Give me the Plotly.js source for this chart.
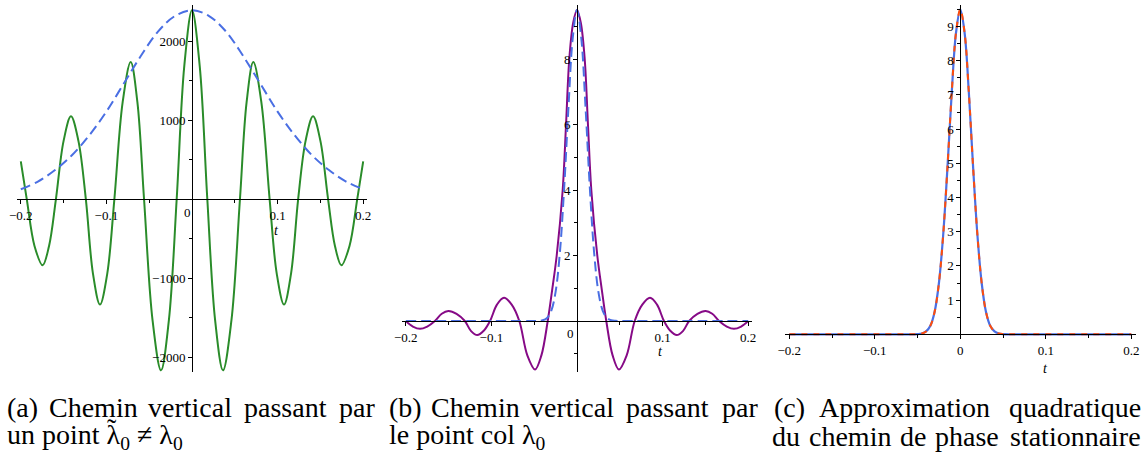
<!DOCTYPE html>
<html>
<head>
<meta charset="utf-8">
<script src="https://cdn.plot.ly/plotly-3.0.1.min.js"></script>
<style>html,body{margin:0;padding:0;background:#fff;}#chart{width:1143px;height:454px;}</style>
</head>
<body>
<div id="chart"></div>
<script>
// ---------- data ----------
// (a) vertical path through a point lambda~0 != lambda0
const tGreenA = [-0.2,-0.193,-0.184,-0.1745,-0.167,-0.159,-0.150,-0.1414,-0.1327,-0.124,-0.1157,-0.1075,-0.099,-0.0907,-0.081,-0.0716,-0.0638,-0.056,-0.0461,-0.0362,-0.027,-0.0179,-0.009,0,
                 0.009,0.0179,0.027,0.0362,0.0461,0.056,0.0638,0.0716,0.081,0.0907,0.099,0.1075,0.1157,0.124,0.1327,0.1414,0.150,0.159,0.167,0.1745,0.184,0.193,0.2];
const yGreenA = [480,0,-590,-835,-590,0,740,1050,740,0,-940,-1333,-940,0,1230,1738,1230,0,-1530,-2165,-1530,0,1690,2392,
                 1690,0,-1530,-2165,-1530,0,1230,1738,1230,0,-940,-1333,-940,0,740,1050,740,0,-590,-835,-590,0,480];
const tEnvA = [-0.2,-0.18,-0.16,-0.14,-0.12,-0.10,-0.08,-0.06,-0.04,-0.02,0,0.02,0.04,0.06,0.08,0.10,0.12,0.14,0.16,0.18,0.2];
const yEnvA = [127,225,370,560,810,1110,1460,1810,2120,2320,2392,2320,2120,1810,1460,1110,810,560,370,225,127];

// (b) vertical path through the saddle point lambda0
const tPurpleB = [-0.2,-0.1917,-0.1834,-0.175,-0.166,-0.158,-0.1503,-0.1407,-0.131,-0.124,-0.1165,-0.109,-0.1016,-0.0935,-0.0853,-0.0763,-0.0674,-0.058,-0.049,-0.0416,-0.0342,-0.029,-0.0237,-0.0167,-0.0128,-0.009,-0.0045,0,
                  0.0045,0.009,0.0128,0.0167,0.0237,0.029,0.0342,0.0416,0.049,0.058,0.0674,0.0763,0.0853,0.0935,0.1016,0.109,0.1165,0.124,0.131,0.1407,0.1503,0.158,0.166,0.175,0.1834,0.1917,0.2];
const yPurpleB = [0,-0.17,-0.24,-0.17,0,0.22,0.305,0.22,0,-0.30,-0.43,-0.30,0,0.50,0.71,0.50,0,-1.05,-1.48,-1.05,0,0.95,2.0,4.0,6.0,8.0,9.1,9.5,
                  9.1,8.0,6.0,4.0,2.0,0.95,0,-1.05,-1.48,-1.05,0,0.50,0.71,0.50,0,-0.30,-0.43,-0.30,0,0.22,0.305,0.22,0,-0.17,-0.24,-0.17,0];
const tGaussB = [-0.2,-0.05,-0.045,-0.04,-0.035,-0.03,-0.025,-0.02,-0.015,-0.01,-0.005,0,0.005,0.01,0.015,0.02,0.025,0.03,0.035,0.04,0.045,0.05,0.2];
const yGaussB = [0,0,0.004,0.022,0.093,0.32,0.89,2.09,4.06,6.51,8.64,9.5,8.64,6.51,4.06,2.09,0.89,0.32,0.093,0.022,0.004,0,0];

// (c) quadratic approximation of the stationary phase path
const tC = [-0.2,-0.1,-0.06,-0.05,-0.045,-0.04,-0.035,-0.03,-0.025,-0.02,-0.015,-0.01,-0.005,0,0.005,0.01,0.015,0.02,0.025,0.03,0.035,0.04,0.045,0.05,0.06,0.1,0.2];
const yExactC = [0,0,0,0.006,0.024,0.084,0.25,0.66,1.50,2.91,4.88,7.07,8.82,9.5,8.82,7.07,4.88,2.91,1.50,0.66,0.25,0.084,0.024,0.006,0,0,0];
const yQuadC  = [0,0,0,0.006,0.024,0.084,0.25,0.66,1.50,2.91,4.88,7.07,8.82,9.5,8.82,7.07,4.88,2.91,1.50,0.66,0.25,0.084,0.024,0.006,0,0,0];

const xTickVals = [-0.2,-0.1,0.1,0.2];
const yTickA = [-2000,-1000,1000,2000];
const yTickB = [2,4,6,8];
const yTickC = [1,2,3,4,5,6,7,8,9];

// ---------- layout helpers ----------
const W = 1143, H = 454;
const SERIF = '"Liberation Serif", "Times New Roman", Times, serif';
function panel(px0, sx, py0, sy, xr, yr, yticks, yminor, xTicks) {
  const tickFont = {family: SERIF, size: 13, color: '#000'};
  const xa = {
    domain: [(px0 + xr[0]*sx)/W, (px0 + xr[1]*sx)/W], range: xr,
    anchor: 'free', position: 1 - py0/H,
    showline: true, linecolor: '#000', linewidth: 1, showgrid: false, zeroline: false,
    tickmode: 'array', tickvals: xTicks, ticks: 'outside', ticklen: 4, tickcolor: '#000',
    tickfont: tickFont,
    minor: {dtick: 0.05, ticks: 'outside', ticklen: 3, tickcolor: '#000', showgrid: false}
  };
  const ya = {
    domain: [1 - (py0 - yr[0]*sy)/H, 1 - (py0 - yr[1]*sy)/H], range: yr,
    anchor: 'free', position: px0/W,
    showline: true, linecolor: '#000', linewidth: 1, showgrid: false, zeroline: false,
    tickmode: 'array', tickvals: yticks, ticks: 'outside', ticklen: 4, tickcolor: '#000',
    tickfont: tickFont,
    minor: {dtick: yminor, ticks: 'outside', ticklen: 3, tickcolor: '#000', showgrid: false}
  };
  return [xa, ya];
}
const [xa1, ya1] = panel(192, 856, 199.3, 0.079, [-0.205, 0.205], [-2190, 2460], yTickA, 500, xTickVals);
const [xa2, ya2] = panel(577, 856, 321, 32.75, [-0.205, 0.205], [-1.55, 9.66], yTickB, 1, xTickVals);
const [xa3, ya3] = panel(960.3, 855, 334.3, 34.2, [-0.205, 0.205], [-0.06, 9.63], yTickC, 0.5, [-0.2,-0.1,0,0.1,0.2]);

const green = '#2a8c2a', royal = '#4a6fe3', purple = '#860a86', orange = '#ff4d0a';
const traces = [
  {x: tGreenA, y: yGreenA, xaxis: 'x', yaxis: 'y', mode: 'lines', line: {color: green, width: 2, shape: 'spline', smoothing: 1}},
  {x: tEnvA, y: yEnvA, xaxis: 'x', yaxis: 'y', mode: 'lines', line: {color: royal, width: 2, dash: '10px,5px', shape: 'spline', smoothing: 1}},
  {x: tPurpleB, y: yPurpleB, xaxis: 'x2', yaxis: 'y2', mode: 'lines', line: {color: purple, width: 2, shape: 'spline', smoothing: 1}},
  {x: tGaussB, y: yGaussB, xaxis: 'x2', yaxis: 'y2', mode: 'lines', line: {color: royal, width: 2, dash: '10px,5px', shape: 'spline', smoothing: 1}},
  {x: tC, y: yExactC, xaxis: 'x3', yaxis: 'y3', mode: 'lines', line: {color: royal, width: 2.2, shape: 'spline', smoothing: 1}},
  {x: tC, y: yQuadC, xaxis: 'x3', yaxis: 'y3', mode: 'lines', line: {color: orange, width: 2, dash: '6px,6px', shape: 'spline', smoothing: 1}}
];

function ann(px, py, text, opts) {
  return Object.assign({xref: 'paper', yref: 'paper', x: px/W, y: 1 - py/H, text: text, showarrow: false,
    xanchor: 'center', yanchor: 'middle'}, opts || {});
}
const labFont = {family: SERIF, size: 13, color: '#000'};
const tFont = {family: SERIF, size: 14, color: '#000'};
const capFont = {family: SERIF, size: 28, color: '#000'};
const L1 = 407, L2 = 436;
function cap(px, py, text, anchor) { return ann(px, py, text, {font: capFont, xanchor: anchor}); }
const annotations = [
  ann(187, 212, '0', {font: labFont}),
  ann(570, 333, '0', {font: labFont}),
  ann(276, 231, '<i>t</i>', {font: tFont}),
  ann(660, 351, '<i>t</i>', {font: tFont}),
  ann(1045, 368, '<i>t</i>', {font: tFont}),
  // caption (a)
  cap(5, L1, '(a)', 'left'), cap(93, L1, 'Chemin', 'center'), cap(190, L1, 'vertical', 'center'),
  cap(285.5, L1, 'passant', 'center'), cap(377, L1, 'par', 'right'),
  cap(5, L2, 'un point λ<sub>0</sub> ≠ λ<sub>0</sub>', 'left'),
  ann(112, L2 - 8, '˜', {font: capFont}),
  // caption (b)
  cap(387, L1, '(b)', 'left'), cap(475, L1, 'Chemin', 'center'), cap(572, L1, 'vertical', 'center'),
  cap(667.5, L1, 'passant', 'center'), cap(760, L1, 'par', 'right'),
  cap(387, L2, 'le point col λ<sub>0</sub>', 'left'),
  // caption (c)
  cap(772, L1, '(c)', 'left'), cap(904, L1, 'Approximation', 'center'), cap(1143, L1, 'quadratique', 'right'),
  cap(770, L2, 'du', 'left'), cap(849.5, L2, 'chemin', 'center'), cap(912.7, L2, 'de', 'center'),
  cap(967, L2, 'phase', 'center'), cap(1143, L2, 'stationnaire', 'right')
];

const layout = {
  width: W, height: H, margin: {l: 0, r: 0, t: 0, b: 0},
  font: {family: SERIF},
  paper_bgcolor: '#fff', plot_bgcolor: '#fff', showlegend: false,
  xaxis: xa1, yaxis: ya1, xaxis2: xa2, yaxis2: ya2, xaxis3: xa3, yaxis3: ya3,
  annotations: annotations
};
Plotly.newPlot('chart', traces, layout, {displayModeBar: false, staticPlot: true});
</script>
</body>
</html>
